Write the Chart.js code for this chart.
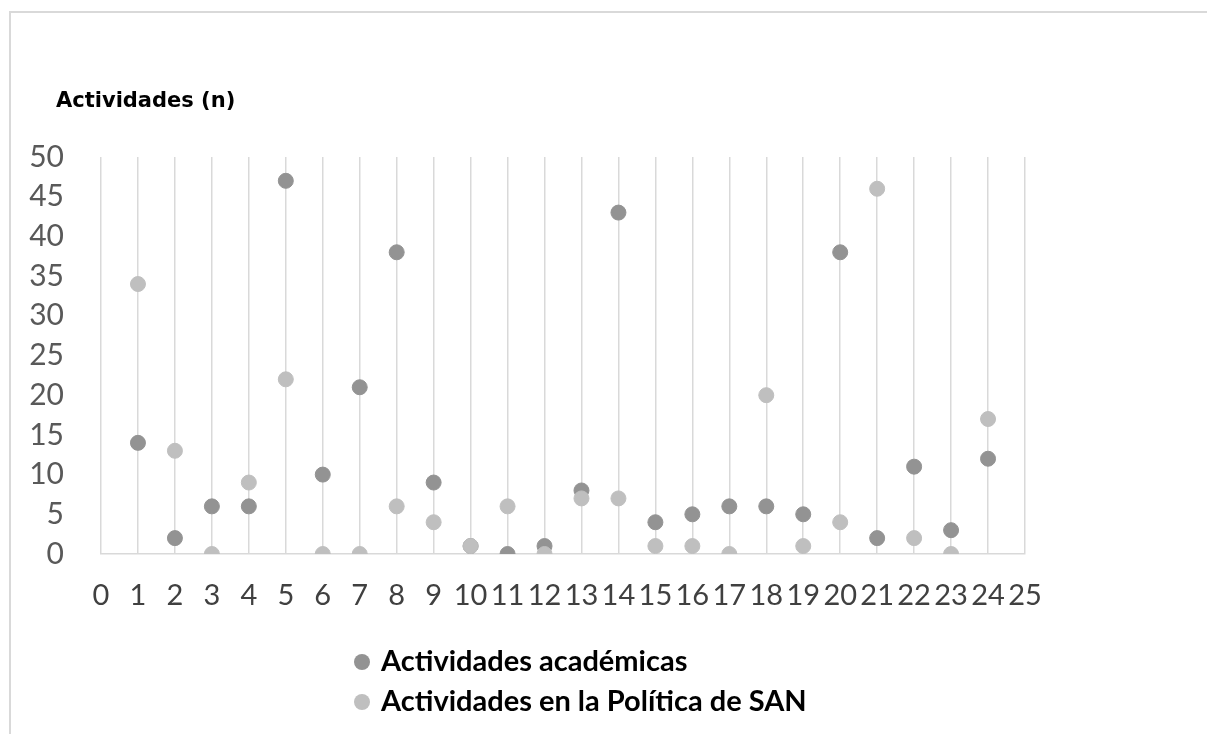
<!DOCTYPE html>
<html>
<head>
<meta charset="utf-8">
<script src="https://cdn.jsdelivr.net/npm/chart.js@4"></script>
<style>
  body { margin: 0; background: #fff; }
  #frame { position: absolute; left: 9px; top: 11px; width: 1300px; height: 800px;
           border-left: 2px solid #d9d9d9; border-top: 2px solid #d9d9d9; }
  #wrap { position: absolute; left: 0; top: 0; width: 1207px; height: 734px; }
  #ytitle { position: absolute; left: 56px; top: 88px; font: bold 21px "DejaVu Sans", sans-serif; color: #000; }
  #legend { position: absolute; left: 354px; top: 640px; font: bold 29px Lato, sans-serif; color: #000; }
  .item { height: 40px; line-height: 40px; white-space: nowrap; }
  .dot { display: inline-block; width: 16px; height: 16px; border-radius: 50%; margin-right: 11px; vertical-align: middle; position: relative; top: -2px; }
</style>
</head>
<body>
<div id="frame"></div>
<div id="wrap"><canvas id="scatterChart"></canvas></div>
<div id="ytitle">Actividades (n)</div>
<div id="legend"></div>
<script>
const xValues = [1, 2, 3, 4, 5, 6, 7, 8, 9, 10, 11, 12, 13, 14, 15, 16, 17, 18, 19, 20, 21, 22, 23, 24];
const academicas = [14, 2, 6, 6, 47, 10, 21, 38, 9, 1, 0, 1, 8, 43, 4, 5, 6, 6, 5, 38, 2, 11, 3, 12];
const politicaSAN = [34, 13, 0, 9, 22, 0, 0, 6, 4, 1, 6, 0, 7, 7, 1, 1, 0, 20, 1, 4, 46, 2, 0, 17];
const seriesNames = ['Actividades académicas', 'Actividades en la Política de SAN'];
const seriesColors = ['#939393', '#bfbfbf'];

function toPoints(values) {
  return xValues.map((x, i) => ({ x: x, y: values[i] }));
}

const ctx = document.getElementById('scatterChart').getContext('2d');
const chart = new Chart(ctx, {
  type: 'scatter',
  data: {
    datasets: [{
      label: seriesNames[0],
      data: toPoints(academicas),
      backgroundColor: seriesColors[0],
      borderColor: seriesColors[0],
      pointRadius: 7.5,
      pointHoverRadius: 7.5,
      order: 2,
    }, {
      label: seriesNames[1],
      data: toPoints(politicaSAN),
      backgroundColor: seriesColors[1],
      borderColor: seriesColors[1],
      pointRadius: 7.5,
      pointHoverRadius: 7.5,
      order: 1,
    }]
  },
  options: {
    responsive: true,
    maintainAspectRatio: false,
    animation: false,
    layout: { padding: { left: 0, top: 157, right: 182, bottom: 120 } },
    scales: {
      x: {
        type: 'linear',
        min: 0,
        max: 25,
        afterFit: (scale) => { scale.height = 60; },
        grid: { color: '#d9d9d9', lineWidth: 1.5, drawTicks: false },
        border: { display: true, color: '#d9d9d9', width: 1.5 },
        ticks: {
          stepSize: 1,
          autoSkip: false,
          maxRotation: 0,
          padding: 24,
          color: '#404040',
          font: { family: 'Lato', size: 29 },
        },
      },
      y: {
        min: 0,
        max: 50,
        afterFit: (scale) => { scale.width = 101; },
        grid: { display: false },
        border: { display: false },
        ticks: {
          stepSize: 5,
          padding: 29,
          color: '#595959',
          font: { family: 'Lato', size: 30 },
        },
      },
    },
    plugins: {
      legend: { display: false },
      tooltip: { enabled: false },
    },
  },
});

// Legend stacked vertically, as in the original
const legendEl = document.getElementById('legend');
chart.data.datasets.forEach((ds) => {
  const row = document.createElement('div');
  row.className = 'item';
  const dot = document.createElement('span');
  dot.className = 'dot';
  dot.style.background = ds.backgroundColor;
  row.appendChild(dot);
  row.appendChild(document.createTextNode(ds.label));
  legendEl.appendChild(row);
});
</script>
</body>
</html>
